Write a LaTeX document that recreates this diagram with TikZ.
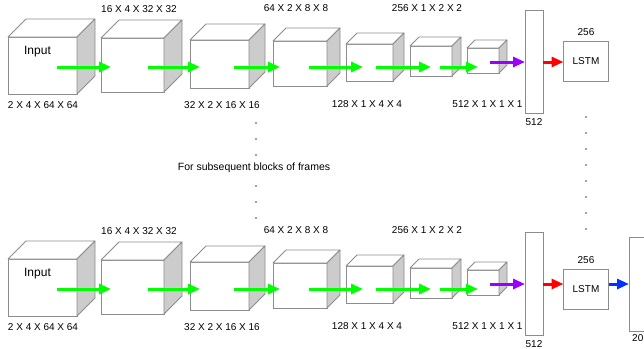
\documentclass[tikz,border=0pt]{standalone}
\usepackage{fontspec}
\setmainfont{Liberation Sans}
\usepackage{tikz}
\usetikzlibrary{positioning,arrows.meta,calc}
\definecolor{CubeEdge}{HTML}{8C8C8C}
\definecolor{CubeSide}{HTML}{CCCCCC}
\definecolor{FlowGreen}{HTML}{00FF00}
\definecolor{FlowPurple}{HTML}{9900FF}
\definecolor{FlowRed}{HTML}{FF0000}
\definecolor{FlowBlue}{HTML}{0033FF}
% top and side face of a cube whose front face is node #1, depth #2
\newcommand{\cubefaces}[2]{%
  \draw[topface] (#1.north west) -- ([shift={(#2,-#2)}]#1.north west)
    -- ([shift={(#2,-#2)}]#1.north east) -- (#1.north east) -- cycle;
  \draw[sideface] (#1.north east) -- ([shift={(#2,-#2)}]#1.north east)
    -- ([shift={(#2,-#2)}]#1.south east) -- (#1.south east) -- cycle;}

\begin{document}
\begin{tikzpicture}[
  x=1pt, y=-1pt, font=\fontsize{10}{12}\selectfont,
  front/.style={draw=CubeEdge,fill=white,line width=0.8pt,outer sep=0pt,inner sep=0pt},
  topface/.style={draw=CubeEdge,fill=white,line width=0.8pt,line join=round},
  sideface/.style={draw=CubeEdge,fill=CubeSide,line width=0.8pt,line join=round},
  vec/.style={draw=CubeEdge,fill=white,line width=0.8pt,outer sep=0pt,minimum width=18pt},
  lstm/.style={draw=CubeEdge,fill=white,line width=0.8pt,outer sep=0pt,
               minimum width=45pt,minimum height=40pt},
  dim/.style={inner sep=0pt},
  flow/.style={-{Triangle[length=12pt,width=10pt]},line width=3pt},
]
\useasboundingbox (0,0) rectangle (644,348);

\foreach \r/\s/\l in {t/0/0,b/222/6}{
\begin{scope}[yshift=-\s pt]
  % cubes
  \foreach \n/\cx/\cy/\w/\h/\d in {A/42.5/65.5/69/57/18, B/132.5/65/63/54/18,
      C/219.5/64/59/48/16, D/300/63.5/54/45/13, E/369.5/62.5/47/37/11,
      F/431/61/42/30/9, G/483/60.5/32/25/8}{
    \node[front,minimum width=\w pt,minimum height=\h pt] (c\n\r) at (\cx,\cy) {};
    \cubefaces{c\n\r}{\d}
  }
  \node[dim,font=\fontsize{12}{14}\selectfont] (in\r) at (37.5,52) {Input};

  % sizes
  \foreach \t/\x/\y [count=\i] in {16 X 4 X 32 X 32/139/9, 64 X 2 X 8 X 8/296/8,
      256 X 1 X 2 X 2/427/8, 2 X 4 X 64 X 64/43/105, 32 X 2 X 16 X 16/222/105,
      128 X 1 X 4 X 4/367/104, 512 X 1 X 1 X 1/487.5/104}
    \node[dim] (sz\i\r) at (\x,\y) {\t};

  % flattened features and lstm
  \node[vec,minimum height=103pt] (fc\r) at (534,61.5) {};
  \node[dim] (fcl\r) at (534,122) {512};
  \node[lstm] (ls\r) at (586,{61+\l}) {LSTM};
  \node[dim] (lsl\r) at (586,{32+\l}) {256};

  % conv arrows
  \foreach \a/\b [count=\i] in {57/111,148/200,234/280,309/363,376/431,440/478}{
    \coordinate (g\i s\r) at (\a,67);
    \coordinate (g\i e\r) at (\b,67);
    \draw[flow,FlowGreen] (g\i s\r) -- (g\i e\r);
  }
  \coordinate (ps\r) at (490,62);
  \draw[flow,FlowPurple] (ps\r) -- (ps\r -| fc\r.west);
  \draw[flow,FlowRed] (ps\r -| fc\r.east) -- (ps\r -| ls\r.west);
\end{scope}}

% output of the last lstm
\node[vec,minimum height=94pt] (out) at (638,284) {};
\node[dim,anchor=west] (outl) at (632,338) {20};
\draw[flow,FlowBlue] (psb -| lsb.east) -- (psb -| out.west);

% repeated blocks
\foreach \y in {123,139,155,186,202,218}
  \fill[black!75] (256,\y) circle (0.8pt);
\node[dim,font=\fontsize{10.5}{12}\selectfont] (rest) at (254,168) {For subsequent blocks of frames};
\foreach \y in {117,133,...,229}
  \fill[black!75] (586,\y) circle (0.8pt);
\end{tikzpicture}
\end{document}
